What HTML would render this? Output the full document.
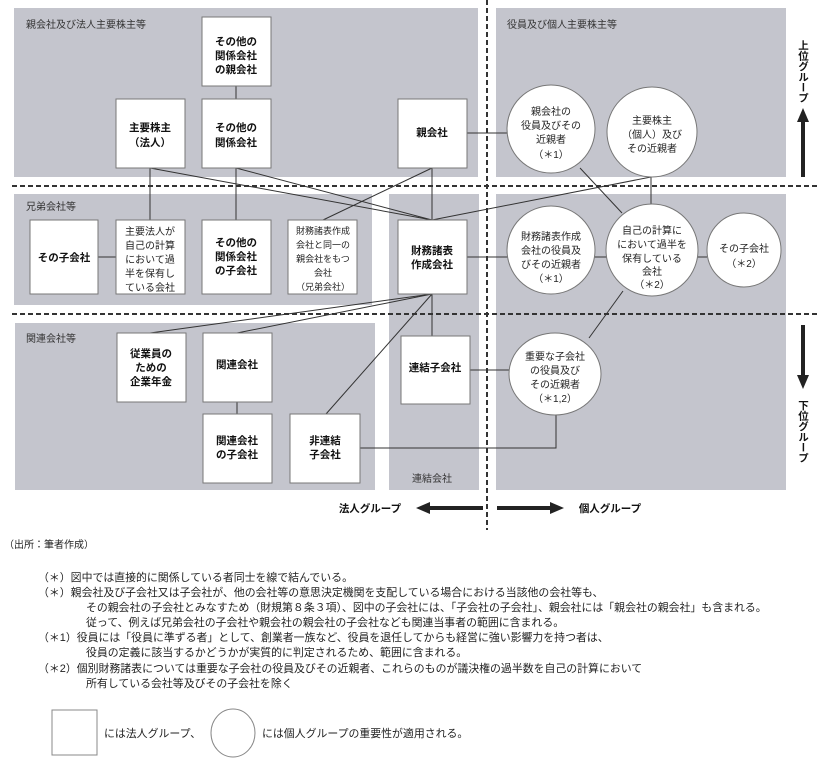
<!DOCTYPE html>
<html><head><meta charset="utf-8"><style>
body{margin:0;background:#fff;}
svg{display:block;font-family:"Liberation Sans","Noto Sans CJK JP",sans-serif;}
.p{fill:#c4c5cd}
.b{fill:#fff;stroke:#777;stroke-width:1}
.l{stroke:#333;stroke-width:1;fill:none}
.t{font-size:10.5px;font-weight:bold;fill:#111;text-anchor:middle}
.c{font-size:10px;fill:#222;text-anchor:middle}
.h{font-size:10px;fill:#333}
.n{font-size:10.9px;fill:#222}
.v{font-size:10.5px;font-weight:bold;fill:#111;writing-mode:vertical-rl;}
</style></head><body>
<svg width="820" height="765" viewBox="0 0 820 765">
<rect class="p" x="14" y="8" width="464" height="169"/>
<rect class="p" x="14" y="194" width="358" height="111"/>
<rect class="p" x="15" y="323" width="360" height="167"/>
<rect class="p" x="389" y="194" width="90" height="296"/>
<rect class="p" x="496" y="8" width="290" height="169"/>
<rect class="p" x="496" y="194" width="290" height="296"/>
<text class="h" x="26" y="28">親会社及び法人主要株主等</text>
<text class="h" x="26" y="210">兄弟会社等</text>
<text class="h" x="26" y="342">関連会社等</text>
<text class="h" x="507" y="28">役員及び個人主要株主等</text>
<text class="h" x="412" y="482">連結会社</text>
<line x1="12" y1="186" x2="820" y2="186" stroke="#333" stroke-width="2" stroke-dasharray="5,3"/>
<line x1="12" y1="314" x2="820" y2="314" stroke="#333" stroke-width="2" stroke-dasharray="5,3"/>
<line x1="487" y1="0" x2="487" y2="530" stroke="#333" stroke-width="2" stroke-dasharray="5,3"/>
<g class="l">
<line x1="236" y1="86" x2="236" y2="99"/>
<line x1="150" y1="168" x2="150" y2="220"/>
<line x1="236" y1="168" x2="236" y2="220"/>
<line x1="150" y1="168" x2="432" y2="220"/>
<line x1="236" y1="168" x2="432" y2="220"/>
<line x1="432" y1="168" x2="432" y2="220"/>
<line x1="432" y1="168" x2="323" y2="220"/>
<line x1="432" y1="220" x2="651" y2="177"/>
<line x1="651" y1="177" x2="651" y2="205"/>
<line x1="580" y1="168" x2="622" y2="213"/>
<line x1="467" y1="133" x2="507" y2="133"/>
<line x1="98" y1="257" x2="116" y2="257"/>
<line x1="467" y1="257" x2="707" y2="257"/>
<line x1="623" y1="291" x2="589" y2="338"/>
<line x1="432" y1="294" x2="150" y2="333"/>
<line x1="432" y1="294" x2="237" y2="333"/>
<line x1="432" y1="294" x2="326" y2="414"/>
<line x1="432" y1="294" x2="432" y2="336"/>
<line x1="237" y1="402" x2="237" y2="414"/>
<line x1="470" y1="370" x2="509" y2="370"/>
<polyline points="360,448 556,448 556,414"/>
</g>
<rect class="b" x="202" y="17" width="69" height="69"/>
<text class="t" x="236" y="45">その他の</text><text class="t" x="236" y="59">関係会社</text><text class="t" x="236" y="73">の親会社</text>
<rect class="b" x="116" y="99" width="69" height="69"/>
<text class="t" x="150" y="131">主要株主</text><text class="t" x="150" y="146">（法人）</text>
<rect class="b" x="202" y="99" width="69" height="69"/>
<text class="t" x="236" y="131">その他の</text><text class="t" x="236" y="146">関係会社</text>
<rect class="b" x="398" y="99" width="69" height="69"/>
<text class="t" x="432" y="136">親会社</text>
<rect class="b" x="30" y="220" width="68" height="74"/>
<text class="t" x="64" y="261">その子会社</text>
<rect class="b" x="116" y="220" width="69" height="74"/>
<g class="c"><text x="150" y="235">主要法人が</text><text x="150" y="249">自己の計算</text><text x="150" y="263">において過</text><text x="150" y="277">半を保有し</text><text x="150" y="291">ている会社</text></g>
<rect class="b" x="202" y="220" width="69" height="74"/>
<text class="t" x="236" y="246">その他の</text><text class="t" x="236" y="260">関係会社</text><text class="t" x="236" y="274">の子会社</text>
<rect class="b" x="288" y="220" width="69" height="74"/>
<g class="c" style="font-size:9px"><text x="323" y="234">財務諸表作成</text><text x="323" y="248">会社と同一の</text><text x="323" y="262">親会社をもつ</text><text x="323" y="276">会社</text><text x="323" y="290">（兄弟会社）</text></g>
<rect class="b" x="398" y="220" width="69" height="74"/>
<text class="t" x="432" y="254">財務諸表</text><text class="t" x="432" y="268">作成会社</text>
<rect class="b" x="117" y="333" width="69" height="69"/>
<text class="t" x="151" y="357">従業員の</text><text class="t" x="151" y="371">ための</text><text class="t" x="151" y="385">企業年金</text>
<rect class="b" x="203" y="333" width="69" height="69"/>
<text class="t" x="237" y="368">関連会社</text>
<rect class="b" x="203" y="414" width="69" height="69"/>
<text class="t" x="237" y="444">関連会社</text><text class="t" x="237" y="458">の子会社</text>
<rect class="b" x="290" y="414" width="70" height="69"/>
<text class="t" x="325" y="444">非連結</text><text class="t" x="325" y="458">子会社</text>
<rect class="b" x="401" y="336" width="69" height="68"/>
<text class="t" x="435" y="371">連結子会社</text>
<g class="b">
<circle cx="551" cy="129" r="44"/>
<circle cx="652" cy="132" r="45"/>
<circle cx="551" cy="250" r="44"/>
<circle cx="652" cy="250" r="46"/>
<circle cx="744" cy="250" r="37"/>
<ellipse cx="555" cy="374" rx="46" ry="41"/>
</g>
<g class="c">
<text x="551" y="115">親会社の</text><text x="551" y="129">役員及びその</text><text x="551" y="143">近親者</text><text x="551" y="158">（＊1）</text>
<text x="652" y="124">主要株主</text><text x="652" y="138">（個人）及び</text><text x="652" y="152">その近親者</text>
<text x="551" y="240">財務諸表作成</text><text x="551" y="254">会社の役員及</text><text x="551" y="268">びその近親者</text><text x="551" y="282">（＊1）</text>
<text x="652" y="234">自己の計算に</text><text x="652" y="248">において過半を</text><text x="652" y="262">保有している</text><text x="652" y="275">会社</text><text x="652" y="288">（＊2）</text>
<text x="744" y="252">その子会社</text><text x="744" y="267">（＊2）</text>
<text x="555" y="360">重要な子会社</text><text x="555" y="374">の役員及び</text><text x="555" y="388">その近親者</text><text x="555" y="402">（＊1,2）</text>
</g>
<g fill="#222">
<rect x="801" y="120" width="4" height="57"/><polygon points="797,122 809,122 803,108"/>
<rect x="801" y="325" width="4" height="52"/><polygon points="797,375 809,375 803,389"/>
<rect x="428" y="506" width="55" height="4"/><polygon points="430,502 430,514 416,508"/>
<rect x="497" y="506" width="55" height="4"/><polygon points="550,502 550,514 564,508"/>
</g>
<text class="v" x="803" y="40">上位グループ</text>
<text class="v" x="803" y="400">下位グループ</text>
<text class="t" x="370" y="512">法人グループ</text>
<text class="t" x="610" y="512">個人グループ</text>
<text class="n" x="4" y="548" style="font-size:10px">（出所：筆者作成）</text>
<g class="n">
<text x="38" y="581">（＊）図中では直接的に関係している者同士を線で結んでいる。</text>
<text x="38" y="596">（＊）親会社及び子会社又は子会社が、他の会社等の意思決定機関を支配している場合における当該他の会社等も、</text>
<text x="86" y="611">その親会社の子会社とみなすため（財規第８条３項）、図中の子会社には、「子会社の子会社」、親会社には「親会社の親会社」も含まれる。</text>
<text x="86" y="626">従って、例えば兄弟会社の子会社や親会社の親会社の子会社なども関連当事者の範囲に含まれる。</text>
<text x="38" y="641">（＊1）役員には「役員に準ずる者」として、創業者一族など、役員を退任してからも経営に強い影響力を持つ者は、</text>
<text x="86" y="656">役員の定義に該当するかどうかが実質的に判定されるため、範囲に含まれる。</text>
<text x="38" y="672">（＊2）個別財務諸表については重要な子会社の役員及びその近親者、これらのものが議決権の過半数を自己の計算において</text>
<text x="86" y="687">所有している会社等及びその子会社を除く</text>
<text x="104" y="737">には法人グループ、</text>
<text x="262" y="737">には個人グループの重要性が適用される。</text>
</g>
<rect x="52" y="710" width="45" height="45" fill="#fff" stroke="#888"/>
<ellipse cx="233" cy="733" rx="22" ry="24" fill="#fff" stroke="#888"/>
</svg>
</body></html>
